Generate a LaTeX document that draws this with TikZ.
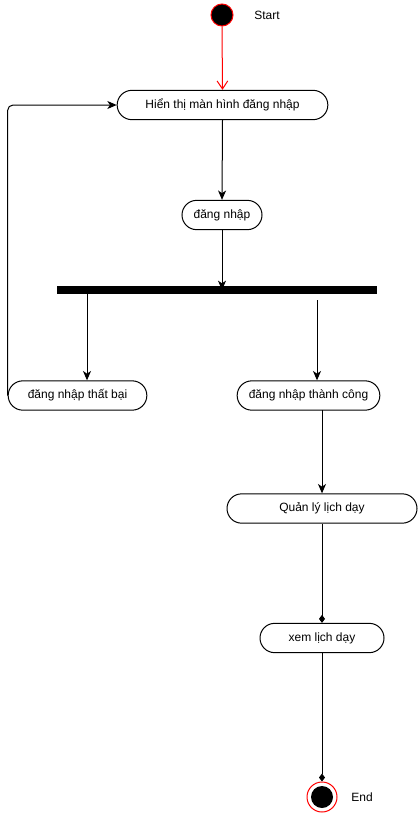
\documentclass[tikz,border=0pt]{standalone}
\usepackage{fontspec}
\setmainfont{Liberation Sans}
\usetikzlibrary{arrows.meta}
\definecolor{myred}{HTML}{FF0000}
\begin{document}
\begin{tikzpicture}[x=0.75pt,y=-0.75pt,
  act/.style={draw=black,line width=0.75pt,rectangle,rounded corners=11pt,minimum height=22pt,inner sep=0pt,font=\fontsize{9pt}{11pt}\selectfont},
  conn/.style={draw=black,line width=0.75pt,-{Stealth[length=7pt,width=6pt,inset=2pt]}},
  dconn/.style={draw=black,line width=0.75pt,-{Diamond[length=6pt,width=4.5pt]}},
  lbl/.style={font=\fontsize{9pt}{11pt}\selectfont}]
\useasboundingbox (0,0) rectangle (418,814);
% start
\node[circle,fill=black,draw=myred,line width=0.75pt,minimum size=16.5pt,inner sep=0pt] (start) at (222,15) {};
\node[lbl] (startl) at (267,15) {Start};
% activities
\node[act,minimum width=158pt] (hien) at (222.5,105) {Hiển thị màn hình đăng nhập};
\node[act,minimum width=60pt] (dn) at (222,215) {đăng nhập};
\node[rectangle,fill=black,minimum width=240pt,minimum height=6pt,inner sep=0pt] (bar) at (217,290) {};
\node[act,minimum width=104pt] (fail) at (77.5,395.5) {đăng nhập thất bại};
\node[act,minimum width=107pt] (succ) at (308.5,395.5) {đăng nhập thành công};
\node[act,minimum width=142.5pt] (ql) at (322,508.5) {Quản lý lịch dạy};
\node[act,minimum width=93pt] (xem) at (322,638) {xem lịch dạy};
% end
\node[circle,draw=myred,line width=0.75pt,minimum size=22.5pt,inner sep=0pt] (endo) at (322,797) {};
\node[circle,fill=black,minimum size=16.5pt,inner sep=0pt] (endi) at (322,797) {};
\node[lbl] (endl) at (362,797) {End};
% connectors
\coordinate (f1) at (87,294);
\coordinate (s1) at (317,300);
\coordinate (s2) at (322,410);
\draw[myred,line width=0.75pt,-{Straight Barb[length=6pt,width=8pt]}] (start.south) -- (hien.north);
\draw[conn] (hien.south) -- (dn.north);
\draw[conn] (dn.south) -- (dn.south |- bar.center);
\draw[conn] (f1) -- (f1 |- fail.north);
\draw[conn] (s1) -- (s1 |- succ.north);
\draw[conn] (s2) -- (s2 |- ql.north);
\draw[dconn] (ql.south) -- (xem.north);
\draw[dconn] (xem.south) -- (endo.north);
\draw[conn,rounded corners=4pt] (fail.west) -- (fail.west |- hien.west) -- (hien.west);
\end{tikzpicture}
\end{document}
